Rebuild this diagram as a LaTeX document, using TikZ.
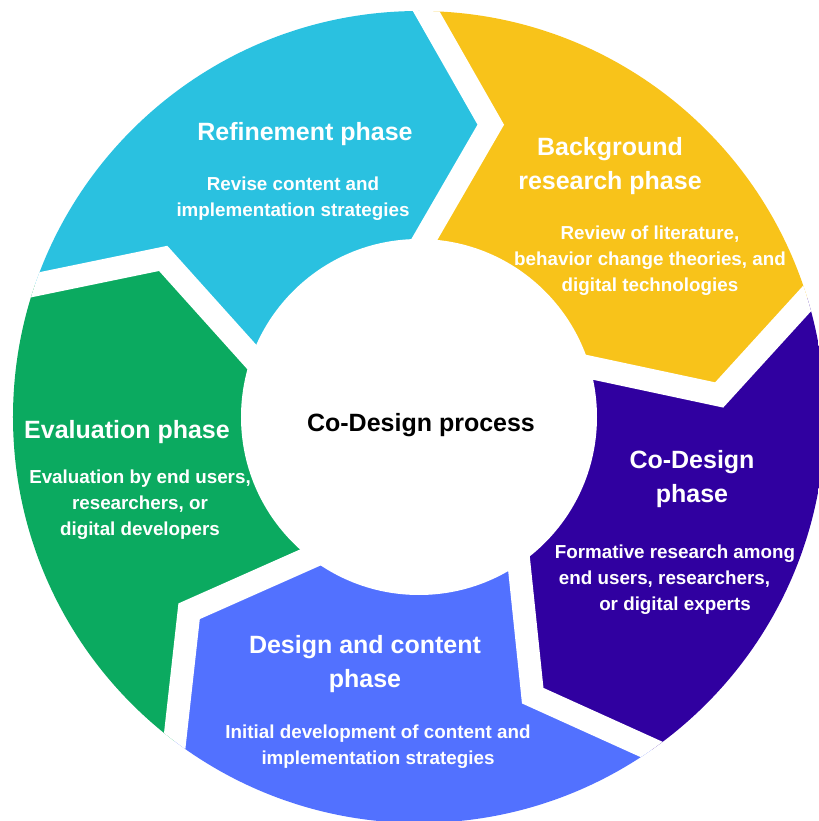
\documentclass[tikz,border=0pt]{standalone}
\usepackage{fontspec}
\setmainfont{Liberation Sans}
\usetikzlibrary{calc}

\definecolor{refineblue}{HTML}{2AC1E0}
\definecolor{backyellow}{HTML}{F8C31A}
\definecolor{codesignpurple}{HTML}{3000A0}
\definecolor{designblue}{HTML}{5271FF}
\definecolor{evalgreen}{HTML}{0BAA60}

\tikzset{
  phasehead/.style={text=white, font=\bfseries\fontsize{18.75}{25.5}\selectfont, align=center, inner sep=0pt},
  phasebody/.style={text=white, font=\bfseries\fontsize{14.1}{19.5}\selectfont, align=center, inner sep=0pt},
  gapline/.style={white, line width=17.25pt, line join=miter}
}

% one ring segment: lead boundary, trail boundary, angle half way between them
\newcommand\ringpart[4]{%
  \fill[#1] (0,0) -- (ei#2) -- (tp#2) -- (eo#2) -- (fa#2) -- (#4:700) -- (fa#3)
    -- (eo#3) -- (tp#3) -- (ei#3) -- cycle;}

\begin{document}
\begin{tikzpicture}[x=0.75pt, y=0.75pt]
  \useasboundingbox (-419,-404) rectangle (399,417);

  % chevron boundaries between the phases (outer rim, tip, inner rim)
  \foreach \k/\a in {1/89, 2/17, 3/-55, 4/-127, 5/-199} {
    \coordinate (po\k) at (\a:406);
    \coordinate (tp\k) at ({\a-12.8}:301);
    \coordinate (pi\k) at ({\a-0.8}:178);
    \coordinate (eo\k) at ($(tp\k)!1.6!(po\k)$);
    \coordinate (ei\k) at ($(tp\k)!1.5!(pi\k)$);
    \coordinate (fa\k) at (\a:700);
  }

  \begin{scope}
    \clip (0,0) circle (406);
    \ringpart{refineblue}{1}{5}{125}
    \ringpart{backyellow}{2}{1}{53}
    \ringpart{codesignpurple}{3}{2}{-19}
    \ringpart{designblue}{4}{3}{-91}
    \ringpart{evalgreen}{5}{4}{-163}
    \foreach \k in {1,...,5}
      \draw[gapline] (ei\k) -- (tp\k) -- (eo\k);
  \end{scope}

  % inner white disk
  \fill[white] (0,0) circle (178);

  \node[font=\bfseries\fontsize{18.75}{25.5}\selectfont, inner sep=0pt] (center) at (2,-8.5) {Co-Design process};

  \node[phasehead] (refH) at (-114,282.5) {Refinement phase};
  \node[phasebody] (refB) at (-126,218.5) {Revise content and\\implementation strategies};

  \node[phasehead] (bgH) at (191,250.5) {Background\\research phase};
  \node[phasebody] (bgB) at (231,156.5) {Review of literature,\\behavior change theories, and\\digital technologies};

  \node[phasehead] (coH) at (273,-62.5) {Co-Design\\phase};
  \node[phasebody] (coB) at (256,-162.5) {Formative research among\\end users, researchers,\hbox to 15.75pt{}\\or digital experts};

  \node[phasehead] (deH) at (-54,-247.5) {Design and content\\phase};
  \node[phasebody] (deB) at (-41,-329.5) {Initial development of content and\\implementation strategies};

  \node[phasehead] (evH) at (-292,-15.5) {Evaluation phase};
  \node[phasebody] (evB) at (-279,-87.5) {Evaluation by end users,\\researchers, or\\digital developers};
\end{tikzpicture}
\end{document}
